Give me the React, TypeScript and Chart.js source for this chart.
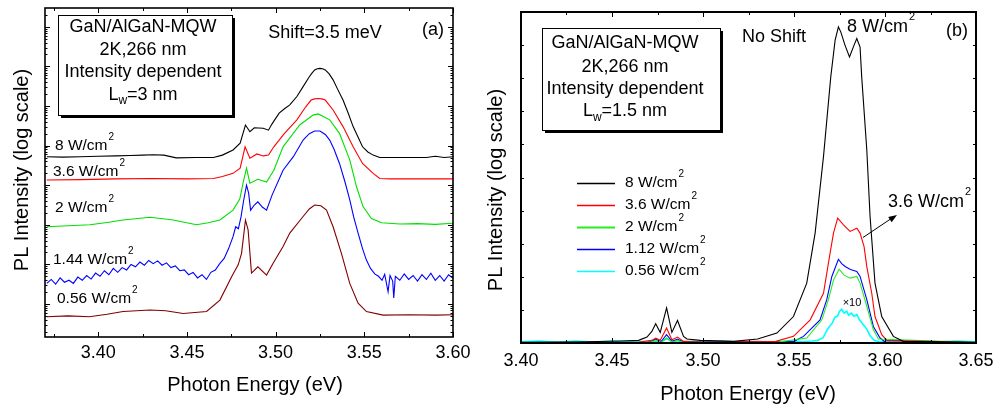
import React, { useEffect, useRef } from "react";
import { Chart, registerables } from "chart.js";

Chart.register(...registerables);

const FONT = '"Liberation Sans", Arial, Helvetica, sans-serif';

// ---------- Panel (a): x = photon energy (eV), y = log10 PL intensity (arb., curves offset) ----------
const aXTicks = [3.4, 3.45, 3.5, 3.55, 3.6];
const aXMinor = [3.375, 3.425, 3.475, 3.525, 3.575];

const aE8 = [3.371, 3.38, 3.39, 3.4, 3.41, 3.418, 3.425, 3.431, 3.437, 3.444, 3.455, 3.465, 3.47, 3.476, 3.48, 3.483, 3.4855, 3.488, 3.493, 3.496, 3.498, 3.502, 3.505, 3.508, 3.512, 3.5155, 3.519, 3.5205, 3.522, 3.5235, 3.525, 3.5265, 3.528, 3.5302, 3.5324, 3.535, 3.538, 3.541, 3.5437, 3.549, 3.552, 3.555, 3.5587, 3.565, 3.575, 3.585, 3.59, 3.595, 3.6];
const aL8 = [3.72, 3.71, 3.72, 3.73, 3.74, 3.75, 3.76, 3.77, 3.76, 3.69, 3.7, 3.7, 3.76, 3.89, 4.06, 4.52, 4.35, 4.45, 4.44, 4.39, 4.55, 4.82, 4.93, 5.03, 5.24, 5.49, 5.74, 5.83, 5.91, 5.94, 5.95, 5.94, 5.91, 5.81, 5.66, 5.42, 5.15, 4.81, 4.48, 3.97, 3.84, 3.76, 3.7, 3.7, 3.7, 3.7, 3.73, 3.7, 3.72];

const aE36 = [3.371, 3.39, 3.41, 3.43, 3.45, 3.465, 3.47, 3.476, 3.48, 3.4828, 3.4855, 3.4895, 3.493, 3.496, 3.499, 3.505, 3.512, 3.517, 3.52, 3.522, 3.524, 3.526, 3.528, 3.5324, 3.538, 3.5437, 3.549, 3.555, 3.5587, 3.565, 3.58, 3.6];
const aL36 = [3.13, 3.14, 3.16, 3.17, 3.16, 3.17, 3.22, 3.3, 3.43, 3.97, 3.68, 3.79, 3.74, 3.76, 3.97, 4.31, 4.65, 4.98, 5.15, 5.18, 5.19, 5.18, 5.15, 4.9, 4.48, 3.97, 3.55, 3.3, 3.17, 3.16, 3.16, 3.16];

const aE2 = [3.371, 3.38, 3.3953, 3.405, 3.414, 3.4292, 3.4423, 3.4554, 3.462, 3.4686, 3.476, 3.4798, 3.482, 3.4836, 3.4855, 3.49, 3.4949, 3.499, 3.5042, 3.5136, 3.5211, 3.524, 3.5305, 3.536, 3.5418, 3.5456, 3.5493, 3.554, 3.5597, 3.57, 3.58, 3.59, 3.6];
const aL2 = [1.95, 1.97, 2.0, 2.06, 2.12, 2.19, 2.12, 2.0, 2.05, 2.12, 2.37, 2.65, 3.13, 3.43, 3.05, 3.15, 3.08, 3.38, 3.97, 4.52, 4.77, 4.8, 4.65, 4.31, 3.64, 2.96, 2.46, 2.16, 2.05, 2.02, 2.03, 2.01, 2.04];

const aE144 = [3.371, 3.3735, 3.376, 3.3785, 3.381, 3.3835, 3.386, 3.3885, 3.391, 3.3935, 3.396, 3.3985, 3.401, 3.4035, 3.406, 3.4085, 3.411, 3.4135, 3.416, 3.4185, 3.421, 3.4235, 3.426, 3.4285, 3.431, 3.4335, 3.436, 3.4385, 3.441, 3.4435, 3.446, 3.4485, 3.451, 3.4535, 3.456, 3.4585, 3.461, 3.4635, 3.466, 3.4685, 3.471, 3.4735, 3.476, 3.4775, 3.479, 3.4805, 3.482, 3.4836, 3.4848, 3.4859, 3.488, 3.49, 3.4925, 3.4949, 3.498, 3.5042, 3.51, 3.5155, 3.519, 3.522, 3.525, 3.528, 3.5305, 3.533, 3.536, 3.539, 3.5418, 3.544, 3.5465, 3.549, 3.5512, 3.5535, 3.5559, 3.558, 3.56, 3.5615, 3.5634, 3.5645, 3.566, 3.5666, 3.5675, 3.57, 3.5725, 3.575, 3.5775, 3.58, 3.5825, 3.585, 3.5875, 3.59, 3.5925, 3.595, 3.5975, 3.6];
const aL144 = [0.52, 0.62, 0.5, 0.66, 0.55, 0.6, 0.52, 0.68, 0.6, 0.72, 0.63, 0.78, 0.7, 0.84, 0.74, 0.9, 0.8, 0.92, 0.86, 1.0, 0.94, 1.06, 0.98, 1.1, 1.02, 1.09, 0.98, 1.04, 0.92, 0.96, 0.84, 0.86, 0.74, 0.8, 0.66, 0.74, 0.62, 0.8, 0.86, 1.02, 1.15, 1.4, 1.7, 1.95, 1.9, 2.2, 2.62, 3.0, 2.8, 2.37, 2.5, 2.58, 2.45, 2.37, 2.75, 3.38, 3.72, 4.14, 4.3, 4.37, 4.37, 4.28, 4.14, 3.9, 3.55, 3.1, 2.63, 2.2, 1.79, 1.4, 1.11, 0.9, 0.76, 0.7, 0.6, 0.75, 0.31, 0.72, 0.58, 0.15, 0.7, 0.6, 0.76, 0.62, 0.72, 0.58, 0.74, 0.62, 0.78, 0.6, 0.72, 0.58, 0.74, 0.65];

const aE056 = [3.371, 3.383, 3.395, 3.405, 3.414, 3.4292, 3.438, 3.4479, 3.4611, 3.4686, 3.4752, 3.4789, 3.4808, 3.483, 3.4845, 3.4864, 3.49, 3.4949, 3.4986, 3.5042, 3.508, 3.5155, 3.519, 3.522, 3.5255, 3.5287, 3.5324, 3.5371, 3.5418, 3.5465, 3.5512, 3.5606, 3.575, 3.59, 3.6];
const aL056 = [-0.32, -0.3, -0.32, -0.26, -0.19, -0.15, -0.17, -0.24, -0.19, 0.1, 0.69, 0.99, 1.28, 2.12, 1.87, 0.78, 0.94, 0.73, 1.03, 1.45, 1.79, 2.21, 2.4, 2.5, 2.48, 2.37, 1.95, 1.28, 0.52, 0.02, -0.19, -0.28, -0.27, -0.28, -0.27];

// ---------- Panel (b): x = photon energy (eV), y = PL intensity (arb.) ----------
const bXTicks = [3.4, 3.45, 3.5, 3.55, 3.6, 3.65];
const bXMinor = [3.425, 3.475, 3.525, 3.575, 3.625];
const bYTicks = [1, 2, 3, 4, 5, 6, 7, 8, 9];

const bE8 = [3.4, 3.43, 3.455, 3.4646, 3.4692, 3.4719, 3.474, 3.4765, 3.48, 3.4829, 3.486, 3.4893, 3.4912, 3.4985, 3.5168, 3.53, 3.5406, 3.5497, 3.557, 3.5616, 3.5662, 3.5702, 3.5726, 3.5744, 3.5757, 3.578, 3.5805, 3.583, 3.5845, 3.5863, 3.5872, 3.59, 3.5918, 3.5945, 3.5982, 3.6046, 3.61, 3.65];
const bV8 = [0.02, 0.03, 0.06, 0.08, 0.18, 0.35, 0.58, 0.32, 1.06, 0.32, 0.68, 0.2, 0.12, 0.08, 0.05, 0.12, 0.3, 0.8, 1.81, 3.32, 5.63, 8.04, 9.15, 9.55, 9.4, 9.0, 8.64, 9.0, 9.2, 8.94, 8.04, 5.83, 3.82, 1.81, 0.8, 0.2, 0.05, 0.02];

const bE36 = [3.4, 3.465, 3.472, 3.474, 3.4765, 3.48, 3.4829, 3.486, 3.4893, 3.5, 3.54, 3.5497, 3.5589, 3.5662, 3.5698, 3.5717, 3.574, 3.5772, 3.5808, 3.5845, 3.5863, 3.5885, 3.59, 3.5927, 3.5945, 3.5982, 3.601, 3.65];
const bV36 = [0.01, 0.03, 0.08, 0.15, 0.08, 0.45, 0.1, 0.18, 0.05, 0.02, 0.05, 0.2, 0.7, 1.5, 2.71, 3.32, 3.77, 3.57, 3.37, 3.47, 3.32, 2.91, 2.31, 1.51, 0.8, 0.25, 0.08, 0.01];

const bE2 = [3.4, 3.47, 3.474, 3.477, 3.48, 3.483, 3.486, 3.489, 3.54, 3.557, 3.5653, 3.5689, 3.5717, 3.5748, 3.5775, 3.5808, 3.5845, 3.5863, 3.59, 3.5936, 3.5964, 3.65];
const bV2 = [0.01, 0.02, 0.06, 0.02, 0.15, 0.03, 0.07, 0.02, 0.02, 0.15, 0.7, 1.31, 1.9, 2.23, 2.05, 1.96, 2.01, 1.81, 1.11, 0.4, 0.12, 0.01];

const bE112 = [3.4, 3.47, 3.474, 3.477, 3.48, 3.483, 3.486, 3.489, 3.55, 3.5552, 3.5643, 3.568, 3.5708, 3.5744, 3.5762, 3.5781, 3.581, 3.5845, 3.5863, 3.59, 3.5936, 3.5973, 3.6, 3.65];
const bV112 = [0.01, 0.02, 0.12, 0.04, 0.25, 0.05, 0.12, 0.03, 0.05, 0.2, 0.7, 1.31, 2.01, 2.53, 2.4, 2.31, 2.22, 2.16, 2.01, 1.31, 0.5, 0.15, 0.03, 0.01];

const bE056 = [3.4, 3.41, 3.42, 3.43, 3.44, 3.45, 3.46, 3.47, 3.474, 3.477, 3.48, 3.483, 3.486, 3.489, 3.495, 3.5, 3.51, 3.52, 3.53, 3.54, 3.55, 3.555, 3.56, 3.563, 3.566, 3.568, 3.5695, 3.571, 3.5725, 3.574, 3.575, 3.5762, 3.5775, 3.579, 3.58, 3.5815, 3.583, 3.5845, 3.586, 3.5881, 3.59, 3.5918, 3.594, 3.597, 3.602, 3.61, 3.62, 3.63, 3.64, 3.65];
const bV056 = [0.04, 0.06, 0.03, 0.06, 0.03, 0.06, 0.04, 0.05, 0.08, 0.04, 0.13, 0.05, 0.08, 0.04, 0.06, 0.03, 0.06, 0.03, 0.05, 0.03, 0.06, 0.04, 0.06, 0.08, 0.16, 0.38, 0.5, 0.6, 0.78, 0.82, 0.95, 1.02, 0.9, 0.96, 0.84, 0.9, 0.8, 0.86, 0.7, 0.55, 0.42, 0.22, 0.08, 0.04, 0.06, 0.03, 0.06, 0.04, 0.06, 0.04];

const bLegend = ["8 W/cm", "3.6 W/cm", "2 W/cm", "1.12 W/cm", "0.56 W/cm"];

const zip = (xs: number[], ys: number[]) => xs.map((x, i) => ({ x, y: ys[i] }));

function font(size: number) {
  return `${size}px ${FONT}`;
}

function supText(ctx: CanvasRenderingContext2D, base: string, sup: string, x: number, y: number, size: number, supSize: number) {
  ctx.textAlign = "left";
  ctx.textBaseline = "middle";
  ctx.font = font(size);
  const w = ctx.measureText(base).width;
  ctx.fillText(base, x, y);
  ctx.font = font(supSize);
  ctx.fillText(sup, x + w + 1, y - size * 0.55);
}

function subLine(ctx: CanvasRenderingContext2D, a: string, sub: string, b: string, cx: number, y: number, size: number, subSize: number) {
  ctx.textBaseline = "middle";
  ctx.textAlign = "left";
  ctx.font = font(size);
  const wa = ctx.measureText(a).width;
  const wb = ctx.measureText(b).width;
  ctx.font = font(subSize);
  const ws = ctx.measureText(sub).width;
  const x0 = cx - (wa + ws + wb) / 2;
  ctx.font = font(size);
  ctx.fillText(a, x0, y);
  ctx.font = font(subSize);
  ctx.fillText(sub, x0 + wa, y + size * 0.33);
  ctx.font = font(size);
  ctx.fillText(b, x0 + wa + ws, y);
}

function drawBox(ctx: CanvasRenderingContext2D, x: number, y: number, w: number, h: number, cx: number, ys: number[], lw: string) {
  ctx.fillStyle = "#000";
  ctx.fillRect(x + 3, y + 3, w, h);
  ctx.fillStyle = "#fff";
  ctx.fillRect(x, y, w, h);
  ctx.strokeStyle = "#000";
  ctx.lineWidth = 1;
  ctx.strokeRect(x + 0.5, y + 0.5, w, h);
  ctx.fillStyle = "#000";
  ctx.textAlign = "center";
  ctx.textBaseline = "middle";
  ctx.font = font(18);
  ctx.fillText("GaN/AlGaN-MQW", cx, ys[0]);
  ctx.fillText("2K,266 nm", cx, ys[1]);
  ctx.fillText("Intensity dependent", cx, ys[2]);
  subLine(ctx, "L", "w", lw, cx, ys[3], 18, 12);
}

function drawFrameX(ctx: CanvasRenderingContext2D, chart: any, major: number[], minor: number[]) {
  const { top, bottom } = chart.chartArea;
  const xs = chart.scales.x;
  for (const v of major) {
    const p = Math.round(xs.getPixelForValue(v)) + 0.5;
    ctx.moveTo(p, bottom);
    ctx.lineTo(p, bottom - 5);
    ctx.moveTo(p, top);
    ctx.lineTo(p, top + 5);
  }
  for (const v of minor) {
    const p = Math.round(xs.getPixelForValue(v)) + 0.5;
    ctx.moveTo(p, bottom);
    ctx.lineTo(p, bottom - 3);
    ctx.moveTo(p, top);
    ctx.lineTo(p, top + 3);
  }
}

const annotA = {
  id: "annotA",
  afterDraw(chart: any) {
    const ctx: CanvasRenderingContext2D = chart.ctx;
    const { left, right, top, bottom } = chart.chartArea;
    const ys = chart.scales.y;
    ctx.save();
    ctx.strokeStyle = "#000";
    ctx.lineWidth = 1;
    ctx.beginPath();
    drawFrameX(ctx, chart, aXTicks, aXMinor);
    for (let d = Math.floor(ys.min); d <= Math.ceil(ys.max); d++) {
      for (let k = 1; k <= 9; k++) {
        const v = d + Math.log10(k);
        if (v < ys.min || v > ys.max) continue;
        const p = Math.round(ys.getPixelForValue(v)) + 0.5;
        const L = k === 1 ? 5 : 2.5;
        ctx.moveTo(left, p);
        ctx.lineTo(left + L, p);
        ctx.moveTo(right, p);
        ctx.lineTo(right - L, p);
      }
    }
    ctx.stroke();
    ctx.lineWidth = 1.6;
    ctx.strokeRect(left, top, right - left, bottom - top);

    drawBox(ctx, 58, 15, 174, 100, 143, [27.5, 50, 72, 95], "=3 nm");

    ctx.fillStyle = "#000";
    ctx.textAlign = "center";
    ctx.textBaseline = "middle";
    ctx.font = font(18);
    ctx.fillText("Shift=3.5 meV", 325, 33.5);
    ctx.fillText("(a)", 433, 30);

    supText(ctx, "8 W/cm", "2", 55, 146, 15.5, 10);
    supText(ctx, "3.6 W/cm", "2", 53, 172, 15.5, 10);
    supText(ctx, "2 W/cm", "2", 55, 207.5, 15.5, 10);
    supText(ctx, "1.44 W/cm", "2", 53, 259.5, 15.5, 10);
    supText(ctx, "0.56 W/cm", "2", 57, 298.5, 15.5, 10);

    ctx.fillStyle = "#000";
    ctx.textAlign = "center";
    ctx.textBaseline = "middle";
    ctx.font = font(20);
    ctx.fillText("Photon Energy (eV)", 255, 385);
    ctx.save();
    ctx.translate(22, 170);
    ctx.rotate(-Math.PI / 2);
    ctx.fillText("PL Intensity (log scale)", 0, 0);
    ctx.restore();
    ctx.restore();
  },
};

const bColors = ["#000000", "#ff0000", "#22ee22", "#0000ff", "#00ffff"];

const annotB = {
  id: "annotB",
  afterDraw(chart: any) {
    const ctx: CanvasRenderingContext2D = chart.ctx;
    const { left, right, top, bottom } = chart.chartArea;
    const ys = chart.scales.y;
    ctx.save();
    ctx.strokeStyle = "#000";
    ctx.lineWidth = 1;
    ctx.beginPath();
    drawFrameX(ctx, chart, bXTicks, bXMinor);
    for (const v of bYTicks) {
      const p = Math.round(ys.getPixelForValue(v)) + 0.5;
      ctx.moveTo(left, p);
      ctx.lineTo(left + 3, p);
      ctx.moveTo(right, p);
      ctx.lineTo(right - 3, p);
    }
    ctx.stroke();
    ctx.lineWidth = 2;
    ctx.strokeRect(left, top, right - left, bottom - top);

    drawBox(ctx, 62, 28, 178, 102, 145, [43.5, 67, 89.5, 111.5], "=1.5 nm");

    ctx.fillStyle = "#000";
    ctx.textAlign = "left";
    ctx.textBaseline = "middle";
    ctx.font = font(18);
    ctx.fillText("No Shift", 262, 37.5);
    ctx.textAlign = "center";
    ctx.fillText("(b)", 477, 31);

    supText(ctx, "8 W/cm", "2", 367, 27, 18, 11);
    supText(ctx, "3.6 W/cm", "2", 408, 202, 18, 11);

    // arrow
    ctx.strokeStyle = "#000";
    ctx.lineWidth = 1;
    ctx.beginPath();
    ctx.moveTo(383, 237.5);
    ctx.lineTo(412, 218);
    ctx.stroke();
    ctx.beginPath();
    const ang = Math.atan2(215 - 237.5, 417 - 383);
    ctx.moveTo(417, 215);
    ctx.lineTo(417 - 9 * Math.cos(ang - 0.35), 215 - 9 * Math.sin(ang - 0.35));
    ctx.lineTo(417 - 9 * Math.cos(ang + 0.35), 215 - 9 * Math.sin(ang + 0.35));
    ctx.closePath();
    ctx.fillStyle = "#000";
    ctx.fill();

    ctx.textAlign = "center";
    ctx.font = font(11);
    ctx.fillText("×10", 372, 302.5);

    // legend
    const rows = [183.5, 205.5, 227.5, 249.5, 271.5];
    bLegend.forEach((label, i) => {
      ctx.strokeStyle = bColors[i];
      ctx.lineWidth = i === 2 ? 2.2 : 1.5;
      ctx.beginPath();
      ctx.moveTo(97, rows[i]);
      ctx.lineTo(135, rows[i]);
      ctx.stroke();
      ctx.fillStyle = "#000";
      supText(ctx, label, "2", 145, rows[i] - 1, 15.5, 10);
    });

    ctx.fillStyle = "#000";
    ctx.textAlign = "center";
    ctx.textBaseline = "middle";
    ctx.font = font(20);
    ctx.fillText("Photon Energy (eV)", 268, 394);
    ctx.save();
    ctx.translate(16, 190);
    ctx.rotate(-Math.PI / 2);
    ctx.fillText("PL Intensity (log scale)", 0, 0);
    ctx.restore();
    ctx.restore();
  },
};

function line(label: string, data: { x: number; y: number }[], color: string, width = 1.1) {
  return {
    label,
    data,
    borderColor: color,
    backgroundColor: color,
    borderWidth: width,
    pointRadius: 0,
    tension: 0,
    fill: false,
  };
}

function xScale(min: number, max: number, ticks: number[], height: number, pad: number) {
  return {
    type: "linear",
    min,
    max,
    grid: { display: false, drawTicks: false },
    border: { display: false },
    ticks: {
      color: "#000",
      font: { family: FONT, size: 18 },
      padding: pad,
      maxRotation: 0,
      autoSkip: false,
      callback: (v: any) => Number(v).toFixed(2),
    },
    afterBuildTicks: (s: any) => {
      s.ticks = ticks.map((value) => ({ value }));
    },
    afterFit: (s: any) => {
      s.height = height;
      s.paddingLeft = 0;
      s.paddingRight = 0;
    },
  };
}

function yScale(min: number, max: number, width: number) {
  return {
    type: "linear",
    min,
    max,
    grid: { display: false, drawTicks: false },
    border: { display: false },
    ticks: { display: false },
    afterFit: (s: any) => {
      s.width = width;
      s.paddingTop = 0;
      s.paddingBottom = 0;
    },
  };
}

export default function App() {
  const refA = useRef<HTMLCanvasElement | null>(null);
  const refB = useRef<HTMLCanvasElement | null>(null);

  useEffect(() => {
    const common = {
      responsive: false,
      animation: false,
      events: [],
      plugins: { legend: { display: false }, tooltip: { enabled: false } },
    };
    const chartA = new Chart(refA.current as HTMLCanvasElement, {
      type: "line",
      data: {
        datasets: [
          line("8 W/cm2", zip(aE8, aL8), "#000000"),
          line("3.6 W/cm2", zip(aE36, aL36), "#ff0000"),
          line("2 W/cm2", zip(aE2, aL2), "#00e000"),
          line("1.44 W/cm2", zip(aE144, aL144), "#0000ff"),
          line("0.56 W/cm2", zip(aE056, aL056), "#800000"),
        ],
      },
      options: {
        ...common,
        layout: { padding: { top: 8, right: 27, bottom: 0, left: 0 } },
        scales: {
          x: xScale(3.37, 3.6, aXTicks, 72, 5),
          y: yScale(-0.833, 7.475, 45),
        },
      } as any,
      plugins: [annotA],
    } as any);

    const chartB = new Chart(refB.current as HTMLCanvasElement, {
      type: "line",
      data: {
        datasets: [
          line("8 W/cm2", zip(bE8, bV8), bColors[0]),
          line("3.6 W/cm2", zip(bE36, bV36), bColors[1]),
          line("2 W/cm2", zip(bE2, bV2), bColors[2]),
          line("1.12 W/cm2", zip(bE112, bV112), bColors[3]),
          line("0.56 W/cm2", zip(bE056, bV056), bColors[4], 1.6),
        ],
      },
      options: {
        ...common,
        layout: { padding: { top: 12, right: 18, bottom: 0, left: 0 } },
        scales: {
          x: xScale(3.4, 3.65, bXTicks, 66, 7),
          y: yScale(0, 10, 41),
        },
      } as any,
      plugins: [annotB],
    } as any);

    return () => {
      chartA.destroy();
      chartB.destroy();
    };
  }, []);

  return (
    <div style={{ position: "absolute", left: 0, top: 0, width: 994, height: 409, background: "#fff", overflow: "hidden" }}>
      <canvas ref={refA} width={480} height={409} style={{ position: "absolute", left: 0, top: 0, width: 480, height: 409 }} />
      <canvas ref={refB} width={514} height={409} style={{ position: "absolute", left: 480, top: 0, width: 514, height: 409 }} />
    </div>
  );
}
